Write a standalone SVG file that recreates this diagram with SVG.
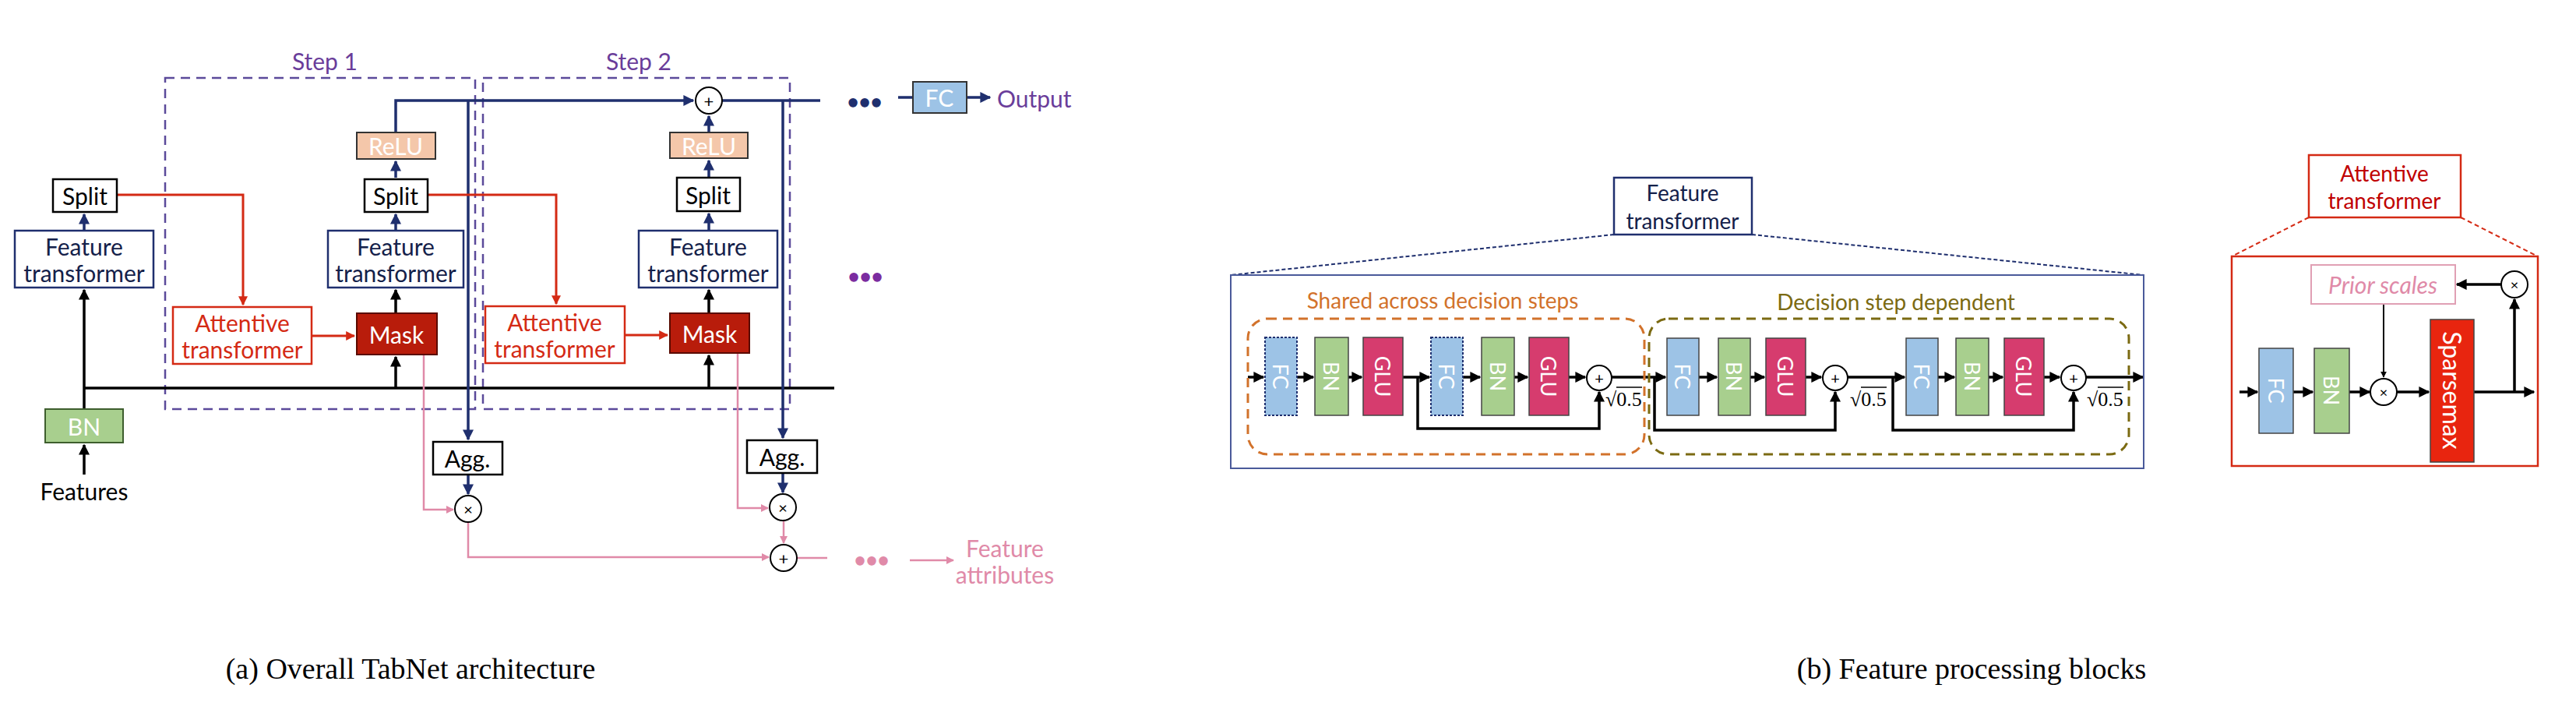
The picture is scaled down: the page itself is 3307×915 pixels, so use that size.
<svg xmlns="http://www.w3.org/2000/svg" width="3307" height="915" viewBox="0 0 3307 915">
<defs>
<marker id="an" viewBox="0 0 10 10" refX="9" refY="5" markerWidth="4" markerHeight="4" orient="auto"><path d="M0,0 L10,5 L0,10 z" fill="#1F2F6E"/></marker>
<marker id="ak" viewBox="0 0 10 10" refX="9" refY="5" markerWidth="4" markerHeight="4" orient="auto"><path d="M0,0 L10,5 L0,10 z" fill="#000"/></marker>
<marker id="ar" viewBox="0 0 10 10" refX="9" refY="5" markerWidth="4" markerHeight="4" orient="auto"><path d="M0,0 L10,5 L0,10 z" fill="#D42A14"/></marker>
<marker id="ap" viewBox="0 0 10 10" refX="9" refY="5" markerWidth="4" markerHeight="4" orient="auto"><path d="M0,0 L10,5 L0,10 z" fill="#E08AA8"/></marker>
</defs>
<style>
text{font-family:Lato,"Liberation Sans",sans-serif;text-anchor:middle;dominant-baseline:central}
.t{font-size:30px}
.nv{fill:#14214A}
.box{fill:#fff;stroke-width:2.5}
.ln{fill:none;stroke:#1F2F6E;stroke-width:3.5}
.lk{fill:none;stroke:#000;stroke-width:3.5}
.lr{fill:none;stroke:#D42A14;stroke-width:3}
.lp{fill:none;stroke:#E08AA8;stroke-width:2.5}
.step{fill:none;stroke:#5B4A9A;stroke-width:2.5;stroke-dasharray:12 8}
.circ{fill:#fff;stroke:#000;stroke-width:2}
.blk{font-size:27px;fill:#fff}
.tm{font-family:"Liberation Serif",serif;font-size:26px;text-anchor:start}
.cap{font-family:"Liberation Serif",serif;font-size:38px}
.dots{font-size:26px;font-weight:bold}
.ov{stroke:#000;stroke-width:1.5}
</style>
<rect width="3307" height="915" fill="#fff"/>

<g id="connectors">
<rect class="step" x="212" y="100" width="398" height="425"/>
<rect class="step" x="620" y="100" width="394" height="425"/>
<path class="lk" d="M108 498 H1071"/>
<path class="lk" d="M108 609 V571" marker-end="url(#ak)"/>
<path class="lk" d="M108 525 V372" marker-end="url(#ak)"/>
<path class="ln" d="M108 296 V275" marker-end="url(#an)"/>
<path class="lr" d="M150 250 H312 V391" marker-end="url(#ar)"/>
<path class="lr" d="M400 431 H455" marker-end="url(#ar)"/>
<path class="lk" d="M508 498 V458" marker-end="url(#ak)"/>
<path class="lk" d="M508 402 V372" marker-end="url(#ak)"/>
<path class="ln" d="M508 296 V275" marker-end="url(#an)"/>
<path class="ln" d="M508 228 V207" marker-end="url(#an)"/>
<path class="ln" d="M508 170 V129 H890" marker-end="url(#an)"/>
<path class="ln" d="M601 129 V564" marker-end="url(#an)"/>
<path class="lr" d="M549 250 H714 V390" marker-end="url(#ar)"/>
<path class="lr" d="M802 430 H857" marker-end="url(#ar)"/>
<path class="lk" d="M910 498 V456" marker-end="url(#ak)"/>
<path class="lk" d="M910 402 V372" marker-end="url(#ak)"/>
<path class="ln" d="M910 296 V274" marker-end="url(#an)"/>
<path class="ln" d="M910 228 V206" marker-end="url(#an)"/>
<path class="ln" d="M910 170 V149" marker-end="url(#an)"/>
<path class="ln" d="M927 129 H1053"/>
<path class="ln" d="M1005 129 V562" marker-end="url(#an)"/>
<path class="ln" d="M1153 125 H1172"/>
<path class="ln" d="M1241 125 H1271" marker-end="url(#an)"/>
<path class="ln" d="M601 609 V634" marker-end="url(#an)"/>
<path class="ln" d="M1005 607 V632" marker-end="url(#an)"/>
<path class="lp" d="M544 455 V654 H582" marker-end="url(#ap)"/>
<path class="lp" d="M947 453 V652 H986" marker-end="url(#ap)"/>
<path class="lp" d="M601 670 V715 H987" marker-end="url(#ap)"/>
<path class="lp" d="M1006 668 V697" marker-end="url(#ap)"/>
<path class="lp" d="M1023 716 H1062"/>
<path class="lp" d="M1168 719 H1224" marker-end="url(#ap)"/>

<path d="M2072 301 L1580 353 M2249 301 L2752 353" fill="none" stroke="#1F2F6E" stroke-width="2" stroke-dasharray="5 3"/>
<path d="M2964 279 L2865 329 M3159 279 L3258 329" fill="none" stroke="#D42A14" stroke-width="2" stroke-dasharray="6 4"/>
<path class="lk" d="M1602 484 H1622" marker-end="url(#ak)"/>
<path class="lk" d="M1665 484 H1686" marker-end="url(#ak)"/>
<path class="lk" d="M1731 484 H1748" marker-end="url(#ak)"/>
<path class="lk" d="M1801 484 H1835" marker-end="url(#ak)"/>
<path class="lk" d="M1878 484 H1900" marker-end="url(#ak)"/>
<path class="lk" d="M1944 484 H1961" marker-end="url(#ak)"/>
<path class="lk" d="M2014 484 H2035" marker-end="url(#ak)"/>
<path class="lk" d="M1820 484 V550 H2053 V503" marker-end="url(#ak)"/>
<path class="lk" d="M2069 484 H2138" marker-end="url(#ak)"/>
<path class="lk" d="M2124 484 V552 H2356 V503" marker-end="url(#ak)"/>
<path class="lk" d="M2181 484 H2204" marker-end="url(#ak)"/>
<path class="lk" d="M2247 484 H2265" marker-end="url(#ak)"/>
<path class="lk" d="M2318 484 H2338" marker-end="url(#ak)"/>
<path class="lk" d="M2372 484 H2445" marker-end="url(#ak)"/>
<path class="lk" d="M2430 484 V552 H2662 V503" marker-end="url(#ak)"/>
<path class="lk" d="M2488 484 H2509" marker-end="url(#ak)"/>
<path class="lk" d="M2553 484 H2571" marker-end="url(#ak)"/>
<path class="lk" d="M2624 484 H2644" marker-end="url(#ak)"/>
<path class="lk" d="M2678 484 H2751" marker-end="url(#ak)"/>
<path class="lk" d="M2875 503 H2898" marker-end="url(#ak)"/>
<path class="lk" d="M2944 503 H2969" marker-end="url(#ak)"/>
<path class="lk" d="M3016 503 H3042" marker-end="url(#ak)"/>
<path class="lk" d="M3077 503 H3118" marker-end="url(#ak)"/>
<path class="lk" d="M3176 503 H3253" marker-end="url(#ak)"/>
<path class="lk" d="M3228 503 V384" marker-end="url(#ak)"/>
<path class="lk" d="M3211 365 H3154" marker-end="url(#ak)"/>
<path fill="none" stroke="#000" stroke-width="2" d="M3060 390 V484" marker-end="url(#ak)"/>
</g>

<text x="417" y="78" class="t" fill="#6A3D9A">Step 1</text>
<text x="820" y="78" class="t" fill="#6A3D9A">Step 2</text>

<g id="split0"><rect class="box" stroke="#000" x="68" y="230" width="82" height="42"/><text x="109" y="251" class="t">Split</text></g>
<g id="ft0"><rect class="box" stroke="#1F2F6E" x="19" y="296" width="178" height="73"/><text x="108" y="316" class="t nv">Feature</text><text x="108" y="350" class="t nv">transformer</text></g>
<g id="bn0"><rect x="58" y="525" width="100" height="43" fill="#A8CF8E" stroke="#3E5E2E" stroke-width="2"/><text x="108" y="547" class="t" fill="#fff">BN</text></g>
<text x="108" y="630" class="t">Features</text>

<g id="att1"><rect class="box" stroke="#D42A14" x="222" y="394" width="178" height="73"/><text x="311" y="414" class="t" fill="#D42A14">Attentive</text><text x="311" y="448" class="t" fill="#D42A14">transformer</text></g>
<g id="mask1"><rect x="458" y="402" width="103" height="53" fill="#B81C0B" stroke="#5A0A00" stroke-width="2"/><text x="509" y="429" class="t" fill="#fff">Mask</text></g>
<g id="ft1"><rect class="box" stroke="#1F2F6E" x="421" y="296" width="174" height="73"/><text x="508" y="316" class="t nv">Feature</text><text x="508" y="350" class="t nv">transformer</text></g>
<g id="split1"><rect class="box" stroke="#000" x="468" y="230" width="81" height="42"/><text x="508" y="251" class="t">Split</text></g>
<g id="relu1"><rect x="458" y="170" width="101" height="34" fill="#F4C7AA" stroke="#333" stroke-width="2"/><text x="508" y="187" class="t" fill="#fff">ReLU</text></g>

<g id="att2"><rect class="box" stroke="#D42A14" x="623" y="393" width="179" height="73"/><text x="712" y="413" class="t" fill="#D42A14">Attentive</text><text x="712" y="447" class="t" fill="#D42A14">transformer</text></g>
<g id="mask2"><rect x="860" y="402" width="102" height="51" fill="#B81C0B" stroke="#5A0A00" stroke-width="2"/><text x="911" y="428" class="t" fill="#fff">Mask</text></g>
<g id="ft2"><rect class="box" stroke="#1F2F6E" x="820" y="296" width="178" height="73"/><text x="909" y="316" class="t nv">Feature</text><text x="909" y="350" class="t nv">transformer</text></g>
<g id="split2"><rect class="box" stroke="#000" x="869" y="228" width="81" height="43"/><text x="909" y="250" class="t">Split</text></g>
<g id="relu2"><rect x="860" y="170" width="100" height="33" fill="#F4C7AA" stroke="#333" stroke-width="2"/><text x="910" y="187" class="t" fill="#fff">ReLU</text></g>
<g id="plus0"><circle class="circ" cx="910" cy="129" r="17"/><text x="910" y="129" font-size="22">+</text></g>
<text x="1110" y="130" class="dots" fill="#1F2F6E">•••</text>
<g id="fc0"><rect x="1172" y="105" width="69" height="40" fill="#9DC3E6" stroke="#333" stroke-width="2"/><text x="1206" y="125" class="t" fill="#fff">FC</text></g>
<text x="1280" y="126" class="t" fill="#6A3D9A" style="text-anchor:start">Output</text>
<text x="1111" y="354" class="dots" fill="#7B2CA0">•••</text>

<g id="agg1"><rect class="box" stroke="#000" x="556" y="567" width="89" height="42"/><text x="600" y="588" class="t">Agg.</text></g>
<g id="agg2"><rect class="box" stroke="#000" x="959" y="565" width="90" height="42"/><text x="1004" y="586" class="t">Agg.</text></g>
<g id="mul1"><circle class="circ" cx="601" cy="653" r="17"/><text x="601" y="653" font-size="20">×</text></g>
<g id="mul2"><circle class="circ" cx="1005" cy="651" r="17"/><text x="1005" y="651" font-size="20">×</text></g>
<g id="plusb"><circle class="circ" cx="1006" cy="716" r="17"/><text x="1006" y="716" font-size="22">+</text></g>
<text x="1119" y="718" class="dots" fill="#E08AA8">•••</text>
<text x="1290" y="703" class="t" fill="#E08AA8">Feature</text>
<text x="1290" y="737" class="t" fill="#E08AA8">attributes</text>

<text x="527" y="858" class="cap">(a) Overall TabNet architecture</text>
<text x="2531" y="858" class="cap">(b) Feature processing blocks</text>

<g id="ftTop"><rect class="box" stroke="#1F2F6E" x="2072" y="228" width="177" height="73"/><text x="2160" y="247" font-size="28" class="nv">Feature</text><text x="2160" y="283" font-size="28" class="nv">transformer</text></g>
<g id="attTop"><rect class="box" stroke="#D42A14" x="2964" y="199" width="195" height="80"/><text x="3061" y="222" font-size="28" fill="#C00000">Attentive</text><text x="3061" y="257" font-size="28" fill="#C00000">transformer</text></g>

<g id="ftBig">
<rect x="1580" y="353" width="1172" height="248" fill="none" stroke="#4A5A9A" stroke-width="2"/>
<text x="1852" y="385" font-size="28" fill="#D2722B">Shared across decision steps</text>
<text x="2434" y="387" font-size="28" fill="#7B6A12">Decision step dependent</text>
<rect x="1602" y="409" width="509" height="174" rx="25" fill="none" stroke="#D2722B" stroke-width="3" stroke-dasharray="12 8"/>
<rect x="2117" y="409" width="616" height="174" rx="25" fill="none" stroke="#7B6A12" stroke-width="3" stroke-dasharray="12 8"/>
</g>
<g id="fc1"><rect x="1624" y="433" width="41" height="100" fill="#9DC3E6" stroke="#1F2F6E" stroke-width="2" stroke-dasharray="3 2"/><text class="blk" transform="translate(1644.5,483) rotate(90)">FC</text></g>
<g id="bn1"><rect x="1688" y="433" width="43" height="100" fill="#A8CF8E" stroke="#444" stroke-width="1.5"/><text class="blk" transform="translate(1709.5,483) rotate(90)">BN</text></g>
<g id="glu1"><rect x="1750" y="433" width="51" height="100" fill="#D63C6E" stroke="#444" stroke-width="1.5"/><text class="blk" transform="translate(1775.5,483) rotate(90)">GLU</text></g>
<g id="fc2"><rect x="1837" y="433" width="41" height="100" fill="#9DC3E6" stroke="#1F2F6E" stroke-width="2" stroke-dasharray="3 2"/><text class="blk" transform="translate(1857.5,483) rotate(90)">FC</text></g>
<g id="bn2"><rect x="1902" y="433" width="42" height="100" fill="#A8CF8E" stroke="#444" stroke-width="1.5"/><text class="blk" transform="translate(1923,483) rotate(90)">BN</text></g>
<g id="glu2"><rect x="1963" y="433" width="51" height="100" fill="#D63C6E" stroke="#444" stroke-width="1.5"/><text class="blk" transform="translate(1988.5,483) rotate(90)">GLU</text></g>
<g id="p1"><circle class="circ" cx="2053" cy="485" r="16"/><text x="2053" y="485" font-size="20">+</text></g>
<text x="2061" y="512" class="tm">√0.5</text><path class="ov" d="M2075 497 H2108"/>
<g id="fc3"><rect x="2140" y="434" width="41" height="99" fill="#9DC3E6" stroke="#444" stroke-width="1.5"/><text class="blk" transform="translate(2160.5,483) rotate(90)">FC</text></g>
<g id="bn3"><rect x="2206" y="434" width="41" height="99" fill="#A8CF8E" stroke="#444" stroke-width="1.5"/><text class="blk" transform="translate(2226.5,483) rotate(90)">BN</text></g>
<g id="glu3"><rect x="2267" y="434" width="51" height="99" fill="#D63C6E" stroke="#444" stroke-width="1.5"/><text class="blk" transform="translate(2292.5,483) rotate(90)">GLU</text></g>
<g id="p2"><circle class="circ" cx="2356" cy="485" r="16"/><text x="2356" y="485" font-size="20">+</text></g>
<text x="2375" y="512" class="tm">√0.5</text><path class="ov" d="M2389 497 H2422"/>
<g id="fc4"><rect x="2447" y="434" width="41" height="99" fill="#9DC3E6" stroke="#444" stroke-width="1.5"/><text class="blk" transform="translate(2467.5,483) rotate(90)">FC</text></g>
<g id="bn4"><rect x="2511" y="434" width="42" height="99" fill="#A8CF8E" stroke="#444" stroke-width="1.5"/><text class="blk" transform="translate(2532,483) rotate(90)">BN</text></g>
<g id="glu4"><rect x="2573" y="434" width="51" height="99" fill="#D63C6E" stroke="#444" stroke-width="1.5"/><text class="blk" transform="translate(2598.5,483) rotate(90)">GLU</text></g>
<g id="p3"><circle class="circ" cx="2662" cy="485" r="16"/><text x="2662" y="485" font-size="20">+</text></g>
<text x="2679" y="512" class="tm">√0.5</text><path class="ov" d="M2693 497 H2726"/>

<g id="attBig"><rect x="2865" y="329" width="393" height="269" fill="none" stroke="#D42A14" stroke-width="2.5"/></g>
<g id="prior"><rect x="2967" y="340" width="185" height="50" fill="#fff" stroke="#E0A0B4" stroke-width="2"/><text x="3059" y="365" font-size="30" font-style="italic" fill="#E08AA8">Prior scales</text></g>
<g id="mulT"><circle class="circ" cx="3228" cy="365" r="17"/><text x="3228" y="365" font-size="18">×</text></g>
<g id="fcA"><rect x="2900" y="447" width="44" height="109" fill="#9DC3E6" stroke="#444" stroke-width="1.5"/><text class="blk" transform="translate(2922,501) rotate(90)">FC</text></g>
<g id="bnA"><rect x="2971" y="447" width="45" height="109" fill="#A8CF8E" stroke="#444" stroke-width="1.5"/><text class="blk" transform="translate(2993.5,501) rotate(90)">BN</text></g>
<g id="mulM"><circle class="circ" cx="3060" cy="503" r="17"/><text x="3060" y="503" font-size="18">×</text></g>
<g id="sparse"><rect x="3120" y="410" width="56" height="183" fill="#E8250F" stroke="#444" stroke-width="1.5"/><text class="blk" style="font-size:32px" transform="translate(3148,501) rotate(90)">Sparsemax</text></g>
</svg>
